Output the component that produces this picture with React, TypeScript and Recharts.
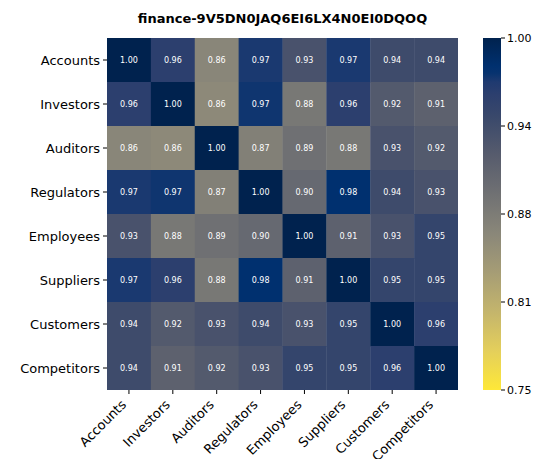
import React from 'react';
import { ScatterChart, Scatter, XAxis, YAxis, BarChart, Bar } from 'recharts';

const W = 549;
const H = 459;
const FONT = 'DejaVu Sans, sans-serif';
const TITLE = 'finance-9V5DN0JAQ6EI6LX4N0EI0DQOQ';

const categories = ['Accounts', 'Investors', 'Auditors', 'Regulators', 'Employees', 'Suppliers', 'Customers', 'Competitors'];

const accountsRow = [1.0, 0.96, 0.862, 0.97, 0.93, 0.97, 0.94, 0.94];
const investorsRow = [0.96, 1.0, 0.858, 0.973, 0.88, 0.96, 0.92, 0.91];
const auditorsRow = [0.862, 0.858, 1.0, 0.87, 0.89, 0.88, 0.93, 0.92];
const regulatorsRow = [0.97, 0.973, 0.87, 1.0, 0.9, 0.98, 0.94, 0.93];
const employeesRow = [0.93, 0.88, 0.89, 0.9, 1.0, 0.91, 0.93, 0.95];
const suppliersRow = [0.97, 0.96, 0.88, 0.98, 0.91, 1.0, 0.95, 0.95];
const customersRow = [0.94, 0.92, 0.93, 0.94, 0.93, 0.95, 1.0, 0.96];
const competitorsRow = [0.94, 0.91, 0.92, 0.93, 0.95, 0.95, 0.96, 1.0];

const rows = [accountsRow, investorsRow, auditorsRow, regulatorsRow, employeesRow, suppliersRow, customersRow, competitorsRow];

const colorbarTicks = [0.75, 0.8125, 0.875, 0.9375, 1.0];
const VMIN = 0.75;
const VMAX = 1.0;

// cividis colormap stops (position on 0..1, colour)
const cividisPos = [0, 0.08, 0.1, 0.125, 0.16, 0.222, 0.333, 0.444, 0.556, 0.667, 0.778, 0.889, 1];
const cividisCol = ['#00224E', '#00306F', '#07336F', '#1F3A70', '#2C3F6E', '#39486B', '#575C6D', '#707173', '#8A8779', '#A69D75', '#C4B56C', '#E4CF5B', '#FEE838'];

function hexToRgb(h: string) {
  const n = parseInt(h.slice(1), 16);
  return [(n >> 16) & 255, (n >> 8) & 255, n & 255];
}
function cividis(t: number) {
  const tt = Math.max(0, Math.min(1, t));
  let i = 0;
  while (i < cividisPos.length - 2 && tt > cividisPos[i + 1]) i++;
  const f = (tt - cividisPos[i]) / (cividisPos[i + 1] - cividisPos[i]);
  const a = hexToRgb(cividisCol[i]);
  const b = hexToRgb(cividisCol[i + 1]);
  const c = a.map((v, k) => Math.round(v + (b[k] - v) * f));
  return `rgb(${c[0]},${c[1]},${c[2]})`;
}
function colorFor(v: number) {
  const t = (v - VMIN) / (VMAX - VMIN);
  return cividis(1 - t);
}

const cells = rows.flatMap((row, r) => row.map((v, c) => ({ x: c, y: r, v })));
const idx = categories.map((_, i) => i);

const M = { top: 38, right: 91, bottom: 9, left: 7 };
const Y_AXIS_W = 100;
const X_AXIS_H = 60;
const PLOT_W = W - M.left - M.right - Y_AXIS_W;
const PLOT_H = H - M.top - M.bottom - X_AXIS_H;
const CELL_W = PLOT_W / categories.length;
const CELL_H = PLOT_H / categories.length;

const CellShape = (props: any) => {
  const { cx, cy } = props;
  const p = props.payload || props;
  return (
    <g>
      <rect x={cx - CELL_W / 2} y={cy - CELL_H / 2} width={CELL_W + 0.4} height={CELL_H + 0.4} fill={colorFor(p.v)} />
      <text x={cx} y={cy} dy="0.35em" textAnchor="middle" fontSize={8} fill="#ffffff" fontFamily={FONT}>
        {p.v.toFixed(2)}
      </text>
    </g>
  );
};

const XTick = (props: any) => {
  const { x, y, payload } = props;
  const bx = x - 2;
  const by = y + 8.5;
  return (
    <text x={bx} y={by} transform={`rotate(-45, ${bx}, ${by})`} textAnchor="end" fontSize={13} fill="#000" fontFamily={FONT}>
      {categories[payload.value]}
    </text>
  );
};

const colorbarData = [{ name: 'cb', range: [VMIN, VMAX] }];

export default function App() {
  return (
    <div style={{ position: 'absolute', left: 0, top: 0, width: W, height: H, background: '#fff', overflow: 'hidden' }}>
      <svg width={W} height={34} style={{ position: 'absolute', left: 0, top: 0 }}>
        <text x={282.5} y={23} textAnchor="middle" fontSize={13} fontWeight="bold" fontFamily={FONT} fill="#000">
          {TITLE}
        </text>
      </svg>
      <div style={{ position: 'absolute', left: 0, top: 0 }}>
        <ScatterChart width={W} height={H} margin={M}>
          <XAxis
            type="number"
            dataKey="x"
            domain={[-0.5, categories.length - 0.5]}
            ticks={idx}
            interval={0}
            height={X_AXIS_H}
            axisLine={false}
            tickSize={4}
            tickMargin={3}
            tickLine={{ stroke: '#000' }}
            tick={<XTick />}
            allowDataOverflow
          />
          <YAxis
            type="number"
            dataKey="y"
            domain={[-0.5, categories.length - 0.5]}
            reversed
            ticks={idx}
            interval={0}
            width={Y_AXIS_W}
            axisLine={false}
            tickSize={4}
            tickMargin={3}
            tickLine={{ stroke: '#000' }}
            tickFormatter={(i: number) => categories[i]}
            tick={{ fontSize: 13, fill: '#000', fontFamily: FONT }}
            allowDataOverflow
          />
          <Scatter data={cells} shape={<CellShape />} isAnimationActive={false} />
        </ScatterChart>
      </div>
      <div style={{ position: 'absolute', left: 0, top: 0 }}>
        <BarChart width={W} height={H} data={colorbarData} margin={{ top: 38, bottom: 69, left: 483, right: 3 }} barCategoryGap={0}>
          <defs>
            <linearGradient id="cbGrad" x1="0" y1="0" x2="0" y2="1">
              {cividisCol.map((c, i) => (
                <stop key={i} offset={`${cividisPos[i] * 100}%`} stopColor={c} />
              ))}
            </linearGradient>
          </defs>
          <XAxis dataKey="name" hide />
          <YAxis
            orientation="right"
            type="number"
            domain={[VMIN, VMAX]}
            ticks={colorbarTicks}
            interval={0}
            width={45}
            axisLine={false}
            tickSize={4}
            tickMargin={2}
            tickLine={{ stroke: '#000' }}
            tickFormatter={(v: number) => v.toFixed(2)}
            tick={{ fontSize: 11, fill: '#000', fontFamily: FONT }}
            allowDataOverflow
          />
          <Bar dataKey="range" fill="url(#cbGrad)" isAnimationActive={false} />
        </BarChart>
      </div>
    </div>
  );
}
